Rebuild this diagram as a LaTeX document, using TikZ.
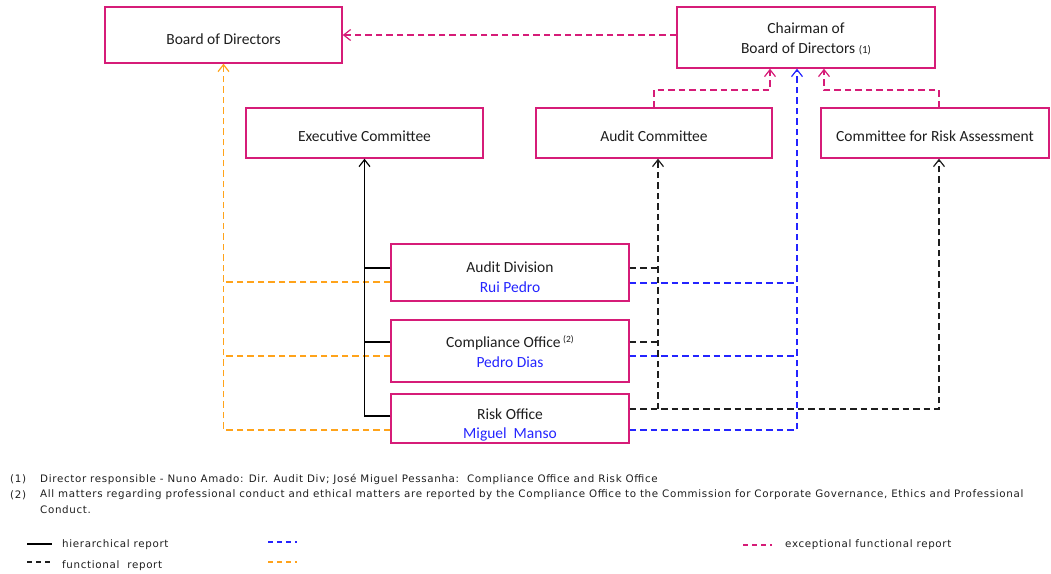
\documentclass[tikz,border=0pt]{standalone}
\usepackage{fontspec}
\setmainfont{Carlito}
\newfontfamily\notefont[LetterSpace=6.5]{DejaVu Sans}
\usetikzlibrary{arrows.meta}
\definecolor{mag}{RGB}{214,28,120}
\definecolor{nblue}{RGB}{36,36,255}
\definecolor{orn}{RGB}{255,163,26}
\definecolor{dgray}{RGB}{30,30,30}
\tikzset{
  box/.style={draw=mag, line width=1.4pt, rectangle, inner sep=0pt},
  boxtxt/.style={font=\fontsize{15.5}{19.5}\selectfont, align=center, text=dgray, inner sep=0pt},
  con/.style={line width=1.3pt, dash pattern=on 6.5pt off 4pt},
  hier/.style={line width=1.3pt, draw=black},
  fblk/.style={con, draw=dgray},
  fblue/.style={con, draw=nblue},
  forn/.style={con, draw=orn},
  fmag/.style={con, draw=mag},
  tip/.style={-{Straight Barb[length=7pt,width=11pt,line width=1.2pt]}},
  note/.style={font=\notefont\fontsize{10.3}{12}\selectfont, anchor=west, inner sep=0pt, text=dgray},
  legdash/.style={line width=1.3pt, dash pattern=on 5pt off 4pt},
}
\begin{document}
\begin{tikzpicture}[x=1pt,y=-1pt]
\useasboundingbox (0,0) rectangle (1051,573);
% boxes
\node[box, minimum width=237pt, minimum height=56pt] (bod) at (223.5,35) {};
\node[box, minimum width=258pt, minimum height=61pt] (ch) at (806,37.5) {};
\node[box, minimum width=237pt, minimum height=50pt] (ex) at (364.5,133) {};
\node[box, minimum width=236pt, minimum height=50pt] (ac) at (654,133) {};
\node[box, minimum width=228pt, minimum height=50pt] (cra) at (935,133) {};
\node[box, minimum width=238pt, minimum height=57pt] (ad) at (510,272.5) {};
\node[box, minimum width=238pt, minimum height=62pt] (co) at (510,351) {};
\node[box, minimum width=238pt, minimum height=49pt] (ro) at (510,418.5) {};
% texts
\node[boxtxt] (bodt) at (223.5,39) {Board of Directors};
\node[boxtxt] (cht) at (806,39) {Chairman of\\Board of Directors {\fontsize{11}{12}\selectfont(1)}};
\node[boxtxt] (ext) at (364.5,136.5) {Executive Committee};
\node[boxtxt] (act) at (654,136.5) {Audit Committee};
\node[boxtxt] (crat) at (935,136.5) {Committee for Risk Assessment};
\node[boxtxt] (adt) at (510,277) {Audit Division\\\textcolor{nblue}{Rui Pedro}};
\node[boxtxt] (cot) at (510,351.5) {Compliance Office\,\raisebox{5pt}{\fontsize{9.5}{10}\selectfont(2)}\\\textcolor{nblue}{Pedro Dias}};
\node[boxtxt] (rot) at (510,425) {Risk Office\\\textcolor{nblue}{Miguel\ \ Manso}};
% level coordinates
\coordinate (yh1) at (0,268); \coordinate (yh2) at (0,342); \coordinate (yh3) at (0,416);
\coordinate (yo1) at (0,282); \coordinate (yo2) at (0,356); \coordinate (yo3) at (0,430);
\coordinate (yf1) at (0,268); \coordinate (yf2) at (0,342); \coordinate (yf3) at (0,409);
\coordinate (yb1) at (0,283); \coordinate (yb2) at (0,356); \coordinate (yb3) at (0,430);
\coordinate (ym) at (0,90);
\coordinate (fx) at ([xshift=4pt]ac.south);
\coordinate (rx) at ([xshift=4pt]cra.south);
\coordinate (rxt) at ([xshift=4pt]cra.north);
\coordinate (bx) at ([xshift=-9pt]ch.south);
\coordinate (mx1) at ([xshift=-36pt]ch.south);
\coordinate (mx2) at ([xshift=18pt]ch.south);
% exceptional (magenta)
\draw[fmag, tip] (ch.west |- bod.east) -- (bod.east);
\draw[fmag, tip] (ac.north) -- (ac.north |- ym) -- (mx1 |- ym) -- (mx1);
\draw[fmag, tip] (rxt) -- (rxt |- ym) -- (mx2 |- ym) -- (mx2);
% orange
\draw[forn, tip] (ro.west |- yo3) -- (bod.south |- yo3) -- (bod.south);
\draw[forn] (ad.west |- yo1) -- (bod.south |- yo1);
\draw[forn] (co.west |- yo2) -- (bod.south |- yo2);
% hierarchical
\draw[hier, tip] (ro.west |- yh3) -- (ex.south |- yh3) -- (ex.south);
\draw[hier] (ad.west |- yh1) -- (ex.south |- yh1);
\draw[hier] (co.west |- yh2) -- (ex.south |- yh2);
% functional black
\draw[fblk, tip] (ro.east |- yf3) -- (rx |- yf3) -- (rx);
\draw[fblk, tip] (fx |- yf3) -- (fx);
\draw[fblk] (ad.east |- yf1) -- (fx |- yf1);
\draw[fblk] (co.east |- yf2) -- (fx |- yf2);
% blue
\draw[fblue, tip] (ro.east |- yb3) -- (bx |- yb3) -- (bx);
\draw[fblue] (ad.east |- yb1) -- (bx |- yb1);
\draw[fblue] (co.east |- yb2) -- (bx |- yb2);
% footnotes
\node[note] (n1a) at (10,479) {(1)};
\node[note] (n1b) at (40,479) {Director responsible - Nuno Amado: Dir. Audit Div; José Miguel Pessanha:\ \ Compliance Office and Risk Office};
\node[note] (n2a) at (10,495) {(2)};
\node[note] (n2b) at (40,495) {All matters regarding professional conduct and ethical matters are reported by the Compliance Office to the Commission for Corporate Governance, Ethics and Professional};
\node[note] (n2c) at (40,510) {Conduct.};
% legend
\coordinate (l1a) at (27,544); \coordinate (l1b) at (52,544);
\coordinate (l2a) at (27,562); \coordinate (l2b) at (53,562);
\coordinate (l3a) at (268,542); \coordinate (l3b) at (297,542);
\coordinate (l4a) at (268,562); \coordinate (l4b) at (297,562);
\coordinate (l5a) at (743,545); \coordinate (l5b) at (772,545);
\draw[hier] (l1a) -- (l1b);
\draw[legdash, draw=dgray] (l2a) -- (l2b);
\draw[legdash, draw=nblue] (l3a) -- (l3b);
\draw[legdash, draw=orn] (l4a) -- (l4b);
\draw[legdash, draw=mag] (l5a) -- (l5b);
\node[note] (lt1) at (62,545) {hierarchical report};
\node[note] (lt2) at (62,566) {functional\ \ report};
\node[note] (lt5) at (785,545) {exceptional functional report};
\end{tikzpicture}
\end{document}
